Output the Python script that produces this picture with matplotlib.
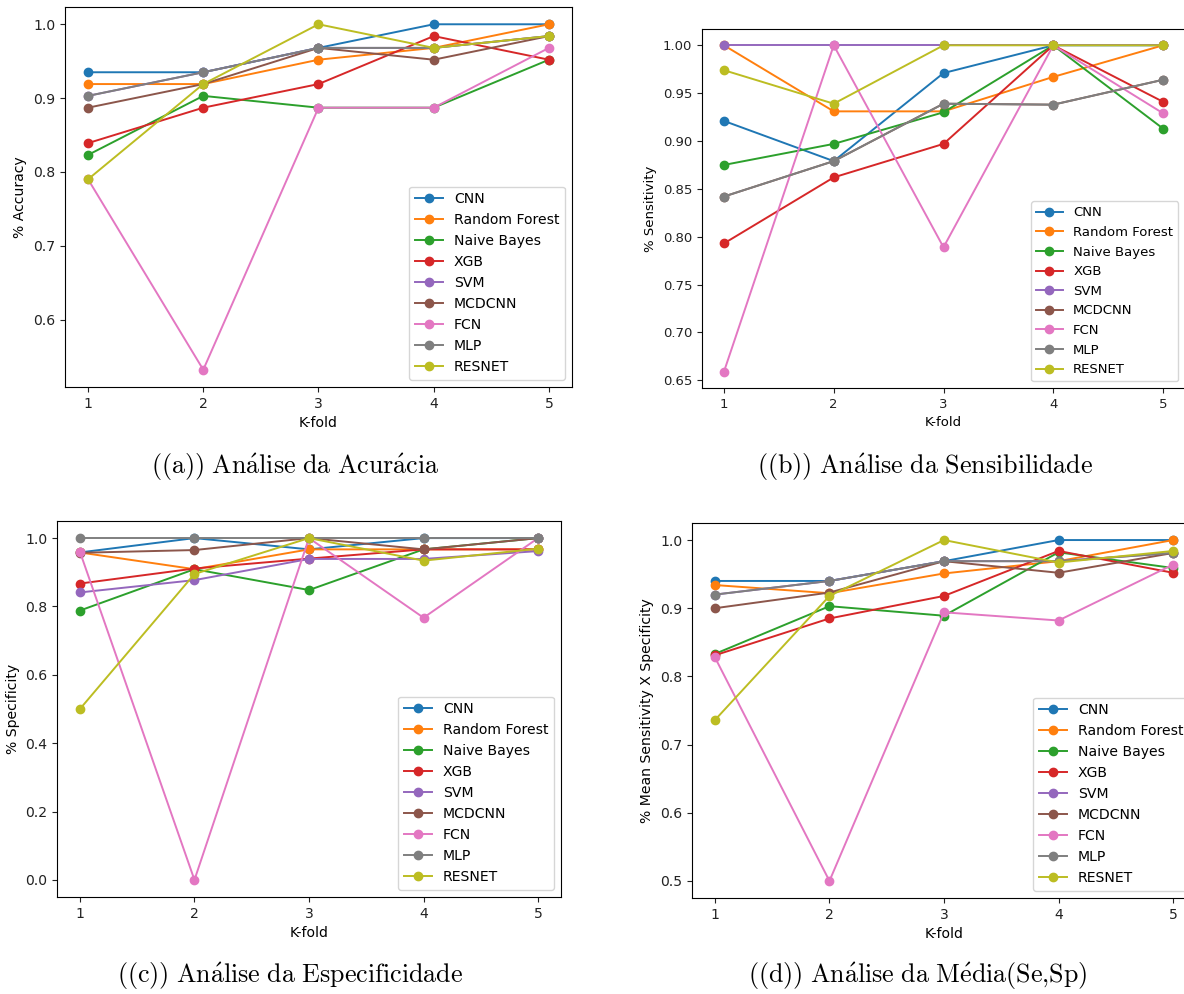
import matplotlib
matplotlib.use("Agg")
import matplotlib.pyplot as plt

plt.rcParams["mathtext.fontset"] = "cm"

folds = [1, 2, 3, 4, 5]
models = ["CNN", "Random Forest", "Naive Bayes", "XGB", "SVM",
          "MCDCNN", "FCN", "MLP", "RESNET"]

# (a) accuracy
acc_cnn = [0.935, 0.935, 0.968, 1.000, 1.000]
acc_rf = [0.919, 0.919, 0.952, 0.968, 1.000]
acc_nb = [0.823, 0.903, 0.887, 0.887, 0.952]
acc_xgb = [0.839, 0.887, 0.919, 0.984, 0.952]
acc_svm = [0.903, 0.935, 0.968, 0.968, 0.984]
acc_mcdcnn = [0.887, 0.919, 0.968, 0.952, 0.984]
acc_fcn = [0.790, 0.532, 0.887, 0.887, 0.968]
acc_mlp = [0.903, 0.935, 0.968, 0.968, 0.984]
acc_resnet = [0.790, 0.919, 1.000, 0.968, 0.984]

# (b) sensitivity
sen_cnn = [0.921, 0.879, 0.971, 1.000, 1.000]
sen_rf = [1.000, 0.931, 0.931, 0.967, 1.000]
sen_nb = [0.875, 0.897, 0.930, 1.000, 0.913]
sen_xgb = [0.793, 0.862, 0.897, 1.000, 0.941]
sen_svm = [1.000, 1.000, 1.000, 1.000, 1.000]
sen_mcdcnn = [0.842, 0.879, 0.939, 0.938, 0.964]
sen_fcn = [0.659, 1.000, 0.789, 1.000, 0.929]
sen_mlp = [0.842, 0.879, 0.939, 0.938, 0.964]
sen_resnet = [0.974, 0.939, 1.000, 1.000, 1.000]

# (c) specificity
spe_cnn = [0.958, 1.000, 0.967, 1.000, 1.000]
spe_rf = [0.958, 0.909, 0.967, 0.967, 0.967]
spe_nb = [0.788, 0.909, 0.848, 0.967, 1.000]
spe_xgb = [0.867, 0.911, 0.940, 0.967, 0.967]
spe_svm = [0.841, 0.877, 0.939, 0.939, 0.962]
spe_mcdcnn = [0.957, 0.965, 1.000, 0.967, 1.000]
spe_fcn = [0.960, 0.000, 1.000, 0.767, 1.000]
spe_mlp = [1.000, 1.000, 1.000, 1.000, 1.000]
spe_resnet = [0.500, 0.895, 1.000, 0.934, 0.969]

# (d) mean of sensitivity and specificity
mean_cnn = [0.940, 0.940, 0.969, 1.000, 1.000]
mean_rf = [0.934, 0.922, 0.951, 0.969, 1.000]
mean_nb = [0.833, 0.903, 0.889, 0.982, 0.959]
mean_xgb = [0.831, 0.885, 0.918, 0.984, 0.952]
mean_svm = [0.920, 0.940, 0.969, 0.969, 0.981]
mean_mcdcnn = [0.900, 0.923, 0.969, 0.952, 0.981]
mean_fcn = [0.828, 0.500, 0.894, 0.882, 0.964]
mean_mlp = [0.920, 0.940, 0.969, 0.969, 0.981]
mean_resnet = [0.736, 0.918, 1.000, 0.967, 0.984]

acc = [acc_cnn, acc_rf, acc_nb, acc_xgb, acc_svm, acc_mcdcnn, acc_fcn, acc_mlp, acc_resnet]
sen = [sen_cnn, sen_rf, sen_nb, sen_xgb, sen_svm, sen_mcdcnn, sen_fcn, sen_mlp, sen_resnet]
spe = [spe_cnn, spe_rf, spe_nb, spe_xgb, spe_svm, spe_mcdcnn, spe_fcn, spe_mlp, spe_resnet]
mean = [mean_cnn, mean_rf, mean_nb, mean_xgb, mean_svm, mean_mcdcnn, mean_fcn, mean_mlp, mean_resnet]

W, H = 1184, 994
fig = plt.figure(figsize=(W / 100, H / 100), dpi=100)


def box(l, t, r, b):
    return [l / W, 1 - b / H, (r - l) / W, (b - t) / H]


def panel(rect, series, ylabel, yticks, fs, caption, cx, cy):
    ax = fig.add_axes(box(*rect))
    for name, vals in zip(models, series):
        ax.plot(folds, vals, marker="o", markersize=6, linewidth=1.4, label=name)
    ax.set_xticks(folds)
    ax.set_yticks(yticks)
    ax.tick_params(labelsize=fs, colors="#222222")
    ax.set_xlabel("K-fold", fontsize=fs)
    ax.set_ylabel(ylabel, fontsize=fs)
    ax.legend(loc="lower right", fontsize=fs)
    fig.text(cx / W, 1 - cy / H, caption, ha="center", va="center", fontsize=18.7)
    return ax


panel((65, 7, 572, 387), acc, "% Accuracy",
      [0.6, 0.7, 0.8, 0.9, 1.0], 10.1,
      r"$\mathrm{((a))\ An\acute{a}lise\ da\ Acur\acute{a}cia}$", 295, 467)
panel((702, 29, 1185, 388), sen, "% Sensitivity",
      [0.65, 0.70, 0.75, 0.80, 0.85, 0.90, 0.95, 1.00], 9.5,
      r"$\mathrm{((b))\ An\acute{a}lise\ da\ Sensibilidade}$", 925, 467)
panel((57, 521, 561, 897), spe, "% Specificity",
      [0.0, 0.2, 0.4, 0.6, 0.8, 1.0], 10.1,
      r"$\mathrm{((c))\ An\acute{a}lise\ da\ Especificidade}$", 290, 976)
panel((692, 523, 1196, 898), mean, "% Mean Sensitivity X Specificity",
      [0.5, 0.6, 0.7, 0.8, 0.9, 1.0], 10.1,
      r"$\mathrm{((d))\ An\acute{a}lise\ da\ M\acute{e}dia(Se{,}Sp)}$", 918, 976)

fig.savefig("out.png", dpi=100)
